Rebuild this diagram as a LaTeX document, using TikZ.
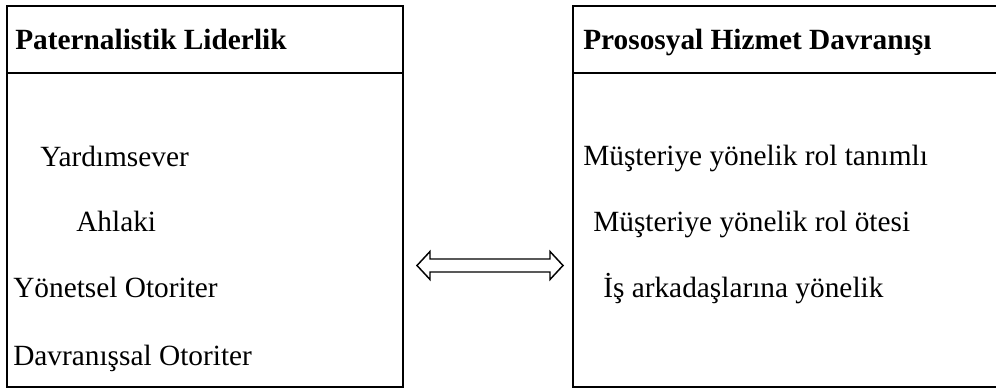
\documentclass[tikz,border=0pt]{standalone}
\usepackage{fontspec}
\setmainfont{Liberation Serif}
\begin{document}
\begin{tikzpicture}[x=0.75pt,y=-0.75pt,
  frame/.style={draw=black,line width=1.5pt},
  label/.style={anchor=base west,inner sep=0pt,font=\fontsize{22}{26}\selectfont},
  headlabel/.style={label,font=\fontsize{22}{26}\selectfont\bfseries},
  twoway/.style={draw=black,line width=1.1pt,fill=white,line join=miter}]
\useasboundingbox (0,0) rectangle (996,388);

% left panel: Paternalistik Liderlik
\draw[frame] (7,6) rectangle (403,386.5);
\draw[frame] (7,72.7) -- (403,72.7);
\node[headlabel] (lhead) at (15,50) {Paternalistik Liderlik};
\node[label] (l1) at (40,167) {Yardımsever};
\node[label] (l2) at (76,232) {Ahlaki};
\node[label] (l3) at (13,298) {Yönetsel Otoriter};
\node[label] (l4) at (13,365) {Davranışsal Otoriter};

% right panel: Prososyal Hizmet Davranışı
\draw[frame] (573,6) rectangle (1000,386.5);
\draw[frame] (573,72.7) -- (1000,72.7);
\node[headlabel] (rhead) at (583,50) {Prososyal Hizmet Davranışı};
\node[label] (r1) at (583,166) {Müşteriye yönelik rol tanımlı};
\node[label] (r2) at (593,232) {Müşteriye yönelik rol ötesi};
\node[label] (r3) at (603,298) {İş arkadaşlarına yönelik};

% two-way block arrow between the panels
\coordinate (mid) at (490,265.5);
\draw[twoway] (417,265.5) -- (430,251.5) -- (430,259) -- (550,259) -- (550,251.5)
  -- (563,265.5) -- (550,279.5) -- (550,272) -- (430,272) -- (430,279.5) -- cycle;
\end{tikzpicture}
\end{document}
